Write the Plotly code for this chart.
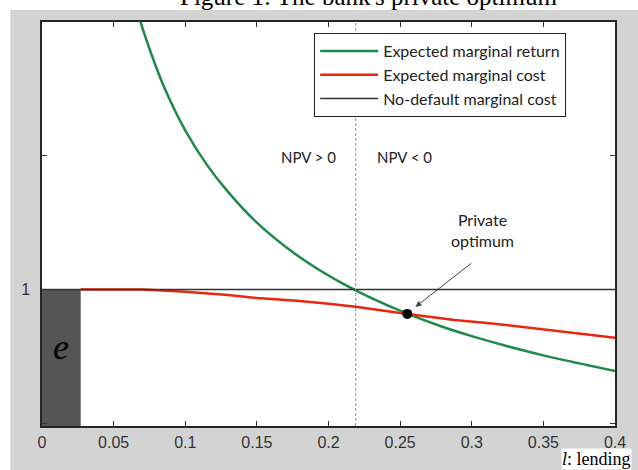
import plotly.graph_objects as go

# ---------------- data ----------------
ret_l = [0.0688, 0.075, 0.085, 0.10, 0.115, 0.13, 0.15, 0.17, 0.19, 0.21, 0.23, 0.255, 0.28, 0.30, 0.325, 0.35, 0.375, 0.40]
ret_v = [2.00, 1.90, 1.76, 1.595, 1.467, 1.364, 1.25, 1.16, 1.085, 1.022, 0.968, 0.91, 0.86, 0.826, 0.788, 0.754, 0.724, 0.695]

cost_l = [0.027, 0.07, 0.10, 0.13, 0.15, 0.178, 0.20, 0.219, 0.255, 0.288, 0.316, 0.35, 0.40]
cost_v = [1.00, 1.00, 0.992, 0.98, 0.968, 0.958, 0.947, 0.936, 0.909, 0.886, 0.872, 0.85, 0.82]

nodef_l = [0.0, 0.40]
nodef_v = [1.0, 1.0]

equity_l = 0.027          # width of the dark "e" block
npv_zero_l = 0.219        # NPV = 0 line
opt_l, opt_v = 0.255, 0.909

x_ticks = [0, 0.05, 0.1, 0.15, 0.2, 0.25, 0.3, 0.35, 0.4]
x_labels = ["0", "0.05", "0.1", "0.15", "0.2", "0.25", "0.3", "0.35", "0.4"]
y_ticks = [0.5, 1, 1.5, 2]
y_labels = ["", "1", "", ""]
x_range = [0, 0.4]
y_range = [0.49, 2.0]

# ---------------- layout helpers ----------------
W, H = 638, 470
ML, MR, MT, MB = 42, 17, 22, 44
PW, PH = W - ML - MR, H - MT - MB


def px_x(p):
    return (p - ML) / PW


def px_y(p):
    return (H - MB - p) / PH


GREEN = "#1e8a4a"
RED = "#e8280e"
BLACK = "#333333"

fig = go.Figure()
fig.add_trace(go.Scatter(x=ret_l, y=ret_v, mode="lines", name="Expected marginal return",
                         line=dict(color=GREEN, width=2.5, shape="spline", smoothing=0.8)))
fig.add_trace(go.Scatter(x=cost_l, y=cost_v, mode="lines", name="Expected marginal cost",
                         line=dict(color=RED, width=2.5)))
fig.add_trace(go.Scatter(x=nodef_l, y=nodef_v, mode="lines", name="No-default marginal cost",
                         line=dict(color=BLACK, width=1.5)))
fig.add_trace(go.Scatter(x=[opt_l], y=[opt_v], mode="markers", showlegend=False,
                         marker=dict(color="black", size=10)))

shapes = [
    # white strips outside the grey panel
    dict(type="rect", xref="paper", yref="paper", x0=px_x(-5), x1=px_x(10), y0=px_y(480), y1=px_y(-5),
         fillcolor="white", line=dict(width=0), layer="below"),
    dict(type="rect", xref="paper", yref="paper", x0=px_x(-5), x1=px_x(645), y0=px_y(10), y1=px_y(-5),
         fillcolor="white", line=dict(width=0), layer="below"),
    # equity block
    dict(type="rect", xref="x", yref="y", x0=0, x1=equity_l, y0=y_range[0], y1=1,
         fillcolor="#555555", line=dict(width=0), layer="below"),
    # white box behind "e"
    dict(type="rect", xref="paper", yref="paper", x0=px_x(50), x1=px_x(73), y0=px_y(362), y1=px_y(336),
         fillcolor="white", line=dict(width=0), layer="below"),
    # NPV=0 dashed line
    dict(type="line", xref="x", yref="paper", x0=npv_zero_l, x1=npv_zero_l, y0=0, y1=1,
         line=dict(color="#5ba3b8", width=1, dash="3px,2px")),
]

annotations = [
    dict(text="Figure 1: The bank's private optimum", xref="paper", yref="paper",
         x=px_x(372), y=px_y(-3), xanchor="center", yanchor="middle", showarrow=False,
         font=dict(family="Liberation Serif", size=25, color="black")),
    dict(text="<i>e</i>", xref="paper", yref="paper", x=px_x(61.5), y=px_y(347), xanchor="center",
         yanchor="middle", showarrow=False, font=dict(family="Liberation Serif", size=36, color="black")),
    dict(text="NPV > 0", x=0.186, y=1.494, showarrow=False,
         font=dict(family="Lato", size=15, color="#222222")),
    dict(text="NPV < 0", x=0.253, y=1.494, showarrow=False,
         font=dict(family="Lato", size=15, color="#222222")),
    dict(text="Private<br>optimum", x=0.3076, y=1.222, showarrow=False,
         font=dict(family="Lato", size=16, color="#222222")),
    dict(text="", x=0.2607, y=0.935, ax=0.3007, ay=1.1026, axref="x", ayref="y",
         showarrow=True, arrowhead=2, arrowsize=1.2, arrowwidth=1, arrowcolor="#444444"),
    dict(text="<i>l</i>: lending", xref="paper", yref="paper", x=px_x(638), y=px_y(470),
         xanchor="right", yanchor="bottom", showarrow=False, bgcolor="white", borderpad=0,
         font=dict(family="Liberation Serif", size=18, color="black")),
]

fig.update_layout(
    width=W, height=H,
    margin=dict(l=ML, r=MR, t=MT, b=MB),
    paper_bgcolor="#d3d3d3",
    plot_bgcolor="white",
    shapes=shapes,
    annotations=annotations,
    legend=dict(x=px_x(317), y=px_y(33), xanchor="left", yanchor="top",
                bgcolor="white", bordercolor="#222222", borderwidth=1,
                itemwidth=58, font=dict(family="Lato", size=16, color="#222222")),
    xaxis=dict(range=x_range, tickvals=x_ticks, ticktext=x_labels, ticks="inside", ticklen=5,
               tickcolor=BLACK, showline=True, linecolor="#262626", linewidth=1.5, mirror="allticks",
               showgrid=False, zeroline=False, ticklabelstandoff=1,
               tickfont=dict(family="Liberation Sans", size=16, color="#333333")),
    yaxis=dict(range=y_range, tickvals=y_ticks, ticktext=y_labels, ticks="inside", ticklen=5,
               tickcolor=BLACK, showline=True, linecolor="#262626", linewidth=1.5, mirror="allticks",
               showgrid=False, zeroline=False, ticklabelstandoff=7,
               tickfont=dict(family="Liberation Sans", size=16, color="#333333")),
)

fig.write_html("out.html")
